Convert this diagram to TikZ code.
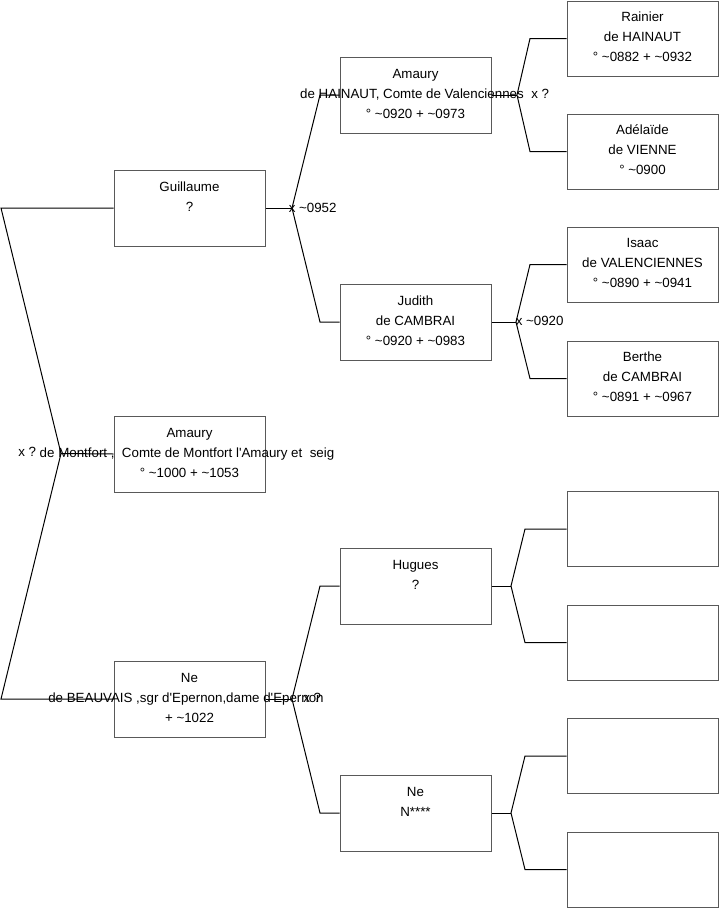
\documentclass[tikz,border=0pt]{standalone}
\usepackage{fontspec}
\setmainfont{Liberation Sans}[Ligatures=TeXOff]
\begin{document}
\begin{tikzpicture}[x=0.75pt,y=-0.75pt,
  personbox/.style={draw=black!65,line width=0.75pt,minimum width=113.25pt,minimum height=57pt,inner sep=0pt},
  smallbox/.style={draw=black!65,line width=0.75pt,minimum width=113.25pt,minimum height=56.25pt,inner sep=0pt},
  txt/.style={inner sep=0pt,anchor=base,font=\fontsize{10}{12}\selectfont},
  mtxt/.style={inner sep=0pt,anchor=base west,font=\fontsize{10}{12}\selectfont},
  link/.style={draw=black,line width=0.75pt}]
\useasboundingbox (0,0) rectangle (719,908);
% column 1
\node[personbox] (gu) at (189.5,208) {};
\node[personbox] (am) at (189.5,454) {};
\node[personbox] (nb) at (189.5,699) {};
% column 2
\node[personbox] (ah) at (415.5,95) {};
\node[personbox] (ju) at (415.5,322) {};
\node[personbox] (hu) at (415.5,586) {};
\node[personbox] (nn) at (415.5,813) {};
% column 3
\node[smallbox] (ra) at (642.5,38.5) {};
\node[smallbox] (ad) at (642.5,151.5) {};
\node[smallbox] (is) at (642.5,264.5) {};
\node[smallbox] (be) at (642.5,378.5) {};
\node[smallbox] (e1) at (642.5,529) {};
\node[smallbox] (e2) at (642.5,642.5) {};
\node[smallbox] (e3) at (642.5,756) {};
\node[smallbox] (e4) at (642.5,869.5) {};
% texts column 1
\node[txt] (gu1) at (189.5,191) {Guillaume};
\node[txt] (gu2) at (189.5,211) {?};
\node[txt] (am1) at (189.5,437) {Amaury};
\node[txt] (am2) at (187,457) {de Montfort ,\ \ Comte de Montfort l'Amaury et\ \ seig};
\node[txt] (am3) at (189.5,477) {° \textasciitilde1000 + \textasciitilde1053};
\node[txt] (nb1) at (189.5,682) {Ne};
\node[txt] (nb2) at (186,702) {de BEAUVAIS ,sgr d'Epernon,dame d'Epernon};
\node[txt] (nb3) at (189.5,722) {+ \textasciitilde1022};
% texts column 2
\node[txt] (ah1) at (415.5,78) {Amaury};
\node[txt] (ah2) at (412,98) {de HAINAUT, Comte de Valenciennes};
\node[txt] (ah3) at (415.5,118) {° \textasciitilde0920 + \textasciitilde0973};
\node[txt] (ju1) at (415.5,305) {Judith};
\node[txt] (ju2) at (415.5,325) {de CAMBRAI};
\node[txt] (ju3) at (415.5,345) {° \textasciitilde0920 + \textasciitilde0983};
\node[txt] (hu1) at (415.5,569) {Hugues};
\node[txt] (hu2) at (415.5,589) {?};
\node[txt] (nn1) at (415.5,796) {Ne};
\node[txt] (nn2) at (415.5,816) {N****};
% texts column 3
\node[txt] (ra1) at (642.5,21) {Rainier};
\node[txt] (ra2) at (642.5,41) {de HAINAUT};
\node[txt] (ra3) at (642.5,61) {° \textasciitilde0882 + \textasciitilde0932};
\node[txt] (ad1) at (642.5,134) {Adélaïde};
\node[txt] (ad2) at (642.5,154) {de VIENNE};
\node[txt] (ad3) at (642.5,174) {° \textasciitilde0900};
\node[txt] (is1) at (642.5,247) {Isaac};
\node[txt] (is2) at (642.5,267) {de VALENCIENNES};
\node[txt] (is3) at (642.5,287) {° \textasciitilde0890 + \textasciitilde0941};
\node[txt] (be1) at (642.5,361) {Berthe};
\node[txt] (be2) at (642.5,381) {de CAMBRAI};
\node[txt] (be3) at (642.5,401) {° \textasciitilde0891 + \textasciitilde0967};
% marriage labels
\node[mtxt] (m0) at (18,456) {x ?};
\node[mtxt] (m1) at (288.5,212) {x \textasciitilde0952};
\node[mtxt] (m2) at (531,98) {x ?};
\node[mtxt] (m3) at (515.5,325) {x \textasciitilde0920};
\node[mtxt] (m4) at (303,702) {x ?};
% fork coordinates
\coordinate (l1) at (1,208);
\coordinate (f0) at (61,453.5);
\coordinate (l2) at (1,699);
\coordinate (fg) at (292,208);
\coordinate (fgu) at (320,95);
\coordinate (fgd) at (320,322);
\coordinate (fn) at (292,699);
\coordinate (fnu) at (320,586);
\coordinate (fnd) at (320,813);
\coordinate (fa) at (517,95);
\coordinate (fau) at (530,38.5);
\coordinate (fad) at (530,151.5);
\coordinate (fj) at (516,322);
\coordinate (fju) at (530,264.5);
\coordinate (fjd) at (530,378.5);
\coordinate (fh) at (511,586);
\coordinate (fhu) at (525,529);
\coordinate (fhd) at (525,642.5);
\coordinate (fe) at (511,813);
\coordinate (feu) at (525,756);
\coordinate (fed) at (525,869.5);
% connectors
\draw[link] (gu.west) -- (l1) -- (f0) -- (l2) -- (nb.west);
\draw[link] (f0) -- (am.west);
\draw[link] (gu.east) -- (fg);
\draw[link] (ah.west) -- (fgu) -- (fg) -- (fgd) -- (ju.west);
\draw[link] (nb.east) -- (fn);
\draw[link] (hu.west) -- (fnu) -- (fn) -- (fnd) -- (nn.west);
\draw[link] (ah.east) -- (fa);
\draw[link] (ra.west) -- (fau) -- (fa) -- (fad) -- (ad.west);
\draw[link] (ju.east) -- (fj);
\draw[link] (is.west) -- (fju) -- (fj) -- (fjd) -- (be.west);
\draw[link] (hu.east) -- (fh);
\draw[link] (e1.west) -- (fhu) -- (fh) -- (fhd) -- (e2.west);
\draw[link] (nn.east) -- (fe);
\draw[link] (e3.west) -- (feu) -- (fe) -- (fed) -- (e4.west);
\end{tikzpicture}
\end{document}
